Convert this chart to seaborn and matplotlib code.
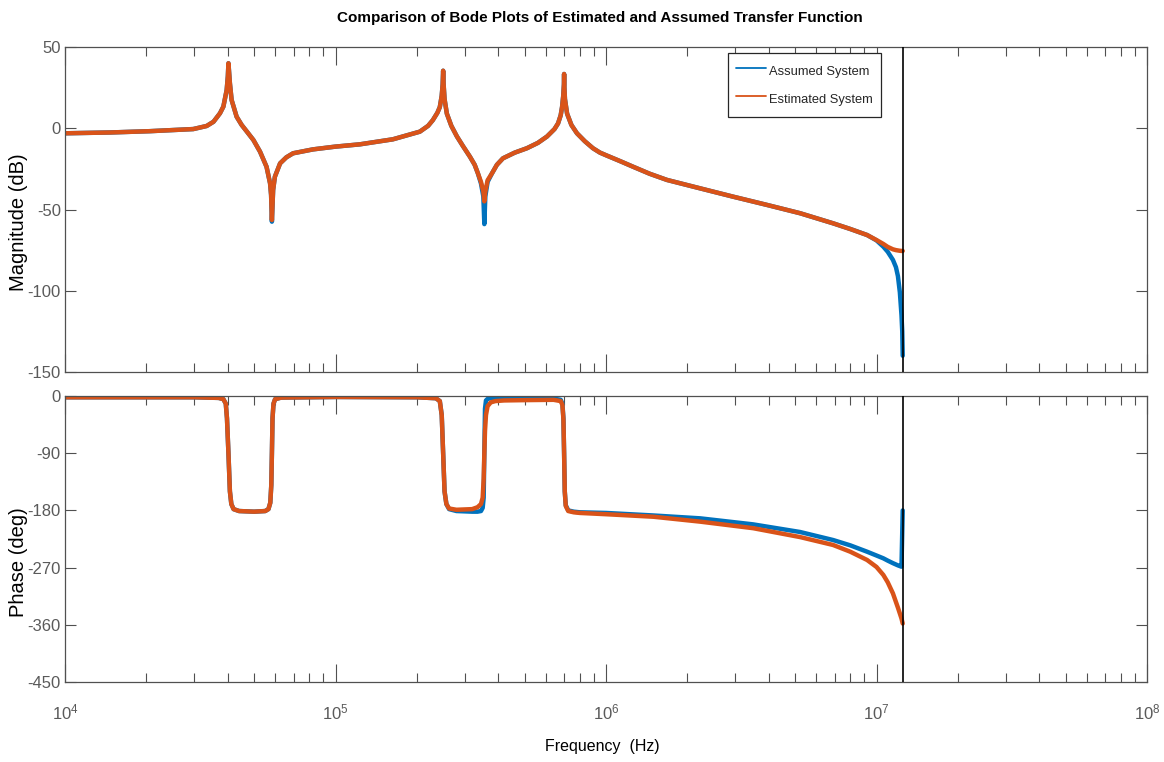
import matplotlib
matplotlib.use("Agg")
import matplotlib.pyplot as plt
import matplotlib.font_manager as fm
from matplotlib.lines import Line2D
import seaborn as sns
import pandas as pd

# ---------------- data ----------------
mag_freq = [1e4, 1.47e4, 2.06e4, 2.98e4, 3.34e4, 3.54e4, 3.74e4, 3.85e4, 3.96e4, 4.0e4,
            4.02e4, 4.07e4, 4.13e4, 4.31e4, 4.5e4, 4.7e4, 4.97e4, 5.26e4, 5.56e4, 5.73e4,
            5.78e4, 5.82e4, 5.88e4, 5.97e4, 6.24e4, 6.58e4, 6.97e4, 8.26e4, 1.0e5, 1.23e5,
            1.63e5, 2.05e5, 2.2e5, 2.29e5, 2.38e5, 2.43e5, 2.47e5, 2.49e5, 2.5e5, 2.51e5,
            2.53e5, 2.58e5, 2.68e5, 2.81e5, 2.96e5, 3.14e5, 3.27e5, 3.36e5, 3.45e5, 3.52e5,
            3.55e5, 3.58e5, 3.65e5, 3.79e5, 3.95e5, 4.16e5, 4.6e5, 5.1e5, 5.6e5, 6.05e5,
            6.45e5, 6.65e5, 6.8e5, 6.88e5, 6.95e5, 6.99e5, 7.0e5, 7.01e5, 7.05e5, 7.18e5,
            7.45e5, 7.81e5, 8.35e5, 8.95e5, 9.5e5, 1.0e6, 1.13e6, 1.26e6, 1.45e6, 1.68e6,
            2.23e6, 2.95e6, 3.94e6, 5.22e6, 6.91e6, 8.0e6, 9.23e6, 1.0e7, 1.06e7, 1.1e7,
            1.15e7, 1.18e7, 1.2e7, 1.22e7, 1.237e7, 1.245e7, 1.25e7]
mag_assumed = [-3.1, -2.6, -1.8, -0.5, 1.4, 4.0, 9.2, 13.3, 23.5, 32,
               40, 27.7, 17.4, 7.1, 2.0, -2.0, -7.2, -14.4, -23.7, -33.9,
               -41, -57.5, -38, -29.8, -21.6, -17.9, -15.4, -13, -11.3, -9.9,
               -6.8, -2.1, 1.5, 5, 9.5, 13, 20, 27, 35.4, 27,
               18, 9, 1.5, -5, -11, -17.5, -22.5, -27.7, -34, -42,
               -59, -42, -33, -27.7, -22.5, -18.5, -15, -12.3, -9, -5.1,
               -0.5, 3, 8, 13, 20, 27, 33.4, 27, 18, 9,
               2, -3.1, -8, -12.3, -15, -16.6, -20.3, -23.7, -28, -31.8,
               -37, -42.1, -47.2, -52.3, -58.5, -62, -65.7, -69, -72.9, -76,
               -81, -85.5, -91, -101, -115, -125, -140]
mag_estimated = [-3.1, -2.6, -1.8, -0.5, 1.4, 4.0, 9.2, 13.3, 23.5, 32,
                 40, 27.7, 17.4, 7.1, 2.0, -2.0, -7.2, -14.4, -23.7, -33.9,
                 -41, -56.5, -38, -29.8, -21.6, -17.9, -15.4, -13, -11.3, -9.9,
                 -6.8, -2.1, 1.5, 5, 9.5, 13, 20, 27, 35.4, 27,
                 18, 9, 1.5, -5, -11, -17.5, -22.5, -27.7, -33, -39,
                 -45, -39, -32, -27.7, -22.5, -18.5, -15, -12.3, -9, -5.1,
                 -0.5, 3, 8, 13, 20, 27, 33.4, 27, 18, 9,
                 2, -3.1, -8, -12.3, -15, -16.6, -20.3, -23.7, -28, -31.8,
                 -37, -42.1, -47.2, -52.3, -58.5, -62, -65.7, -68.8, -71.2, -73,
                 -74.5, -75, -75.2, -75.4, -75.5, -75.5, -75.5]

ph_freq = [1e4, 3.0e4, 3.7e4, 3.85e4, 3.93e4, 3.97e4, 4.02e4, 4.07e4, 4.12e4, 4.2e4,
           4.4e4, 5.0e4, 5.5e4, 5.65e4, 5.74e4, 5.79e4, 5.82e4, 5.85e4, 5.9e4, 5.98e4,
           6.3e4, 1.0e5, 2.0e5, 2.35e5, 2.43e5, 2.47e5, 2.5e5, 2.53e5, 2.57e5, 2.63e5,
           2.8e5, 3.2e5, 3.35e5, 3.45e5, 3.5e5, 3.53e5, 3.55e5, 3.57e5, 3.6e5, 3.65e5,
           3.75e5, 3.9e5, 4.2e5, 5.0e5, 6.4e5, 6.8e5, 6.9e5, 6.96e5, 7.0e5, 7.04e5,
           7.1e5, 7.25e5, 7.6e5, 8.0e5, 1.0e6, 1.5e6, 2.23e6, 3.5e6, 5.22e6, 6.91e6,
           8.0e6, 9.23e6, 1.0e7, 1.06e7, 1.1e7, 1.15e7, 1.2e7, 1.237e7, 1.25e7]
ph_assumed = [-2, -2, -3, -5, -12, -35, -90, -150, -170, -178,
              -181, -182, -181, -178, -168, -140, -90, -35, -12, -5,
              -2.5, -1.5, -2, -3.5, -8, -30, -90, -150, -170, -178,
              -181, -182, -182, -181, -176, -160, -90, -20, -7, -4.5,
              -3.5, -3.5, -3.5, -3.5, -4, -6, -12, -35, -90, -150,
              -172, -180, -182, -183, -184, -188, -192.5, -202, -214, -226.6,
              -235, -245, -251, -255.4, -259, -263, -266.5, -268.6, -180]
ph_estimated = [-2, -2, -3, -5, -12, -35, -90, -150, -170, -178,
                -181, -182, -181, -178, -168, -140, -90, -35, -12, -5,
                -2.5, -1.5, -2, -3.5, -8, -30, -90, -150, -170, -177,
                -179, -178, -175, -170, -160, -130, -90, -55, -30, -16,
                -10, -8, -7, -6.5, -6, -8, -14, -37, -90, -150,
                -173, -181, -183, -184, -186, -190, -197.7, -208, -222, -234.4,
                -245, -258, -269, -281.6, -293, -310.5, -333, -350, -358]

series_names = ["Assumed System", "Estimated System"]
series_colors = ["#0072BD", "#D95319"]
nyquist = 1.25e7
mag_ticks = [-150, -100, -50, 0, 50]
ph_ticks = [0, -90, -180, -270, -360, -450]

# ---------------- style ----------------
sns.set_style("white")
names = {f.name for f in fm.fontManager.ttflist}
narrow = "Liberation Sans Narrow" if "Liberation Sans Narrow" in names else "Liberation Sans"
plt.rcParams["font.family"] = [narrow, "DejaVu Sans"]
plt.rcParams["mathtext.fontset"] = "custom"
plt.rcParams["mathtext.rm"] = narrow
plt.rcParams["mathtext.it"] = narrow
plt.rcParams["axes.unicode_minus"] = False
axcol = "#505050"
labcol = "#5a5a5a"

fig = plt.figure(figsize=(11.64, 7.62), dpi=100)
L, R = 65 / 1164, 1147 / 1164
ax1 = fig.add_axes([L, 1 - 372 / 762, R - L, (372 - 47) / 762])
ax2 = fig.add_axes([L, 1 - 682 / 762, R - L, (682 - 396) / 762])

mag_df = pd.DataFrame({"f": mag_freq * 2,
                       "v": mag_assumed + mag_estimated,
                       "s": [series_names[0]] * len(mag_freq) + [series_names[1]] * len(mag_freq)})
ph_df = pd.DataFrame({"f": ph_freq * 2,
                      "v": ph_assumed + ph_estimated,
                      "s": [series_names[0]] * len(ph_freq) + [series_names[1]] * len(ph_freq)})

for ax, df in ((ax1, mag_df), (ax2, ph_df)):
    sns.lineplot(data=df, x="f", y="v", hue="s", palette=dict(zip(series_names, series_colors)),
                 hue_order=series_names, estimator=None, sort=False, linewidth=3.2,
                 legend=False, ax=ax)
    for ln in ax.get_lines():
        ln.set_solid_joinstyle("round")
        ln.set_solid_capstyle("round")
    ax.set_xscale("log")
    ax.set_xlim(1e4, 1e8)
    ax.axvline(nyquist, color="black", lw=1.2, zorder=5)
    for sp in ax.spines.values():
        sp.set_color(axcol)
        sp.set_linewidth(0.9)
    ax.tick_params(axis="x", which="major", direction="in", top=True, bottom=True,
                   length=13, width=0.8, color=axcol, labelcolor=labcol, labelsize=12, pad=15)
    ax.tick_params(axis="x", which="minor", direction="in", top=True, bottom=True,
                   length=6.5, width=0.8, color=axcol)
    ax.tick_params(axis="y", which="major", direction="in", left=True, right=True,
                   length=8, width=0.8, color=axcol, labelcolor=labcol, labelsize=12, pad=3)
    ax.set_xlabel("")
    ax.set_ylabel("")

ax1.set_ylim(-150, 50)
ax1.set_yticks(mag_ticks)
ax1.tick_params(axis="x", labelbottom=False)
ax2.set_ylim(-450, 0)
ax2.set_yticks(ph_ticks)

ax1.set_ylabel("Magnitude (dB)", family=["Liberation Sans", "DejaVu Sans"], fontsize=14.5, color="black")
ax2.set_ylabel("Phase (deg)", family=["Liberation Sans", "DejaVu Sans"], fontsize=14.5, color="black")
ax1.yaxis.set_label_coords(-0.034, 0.46)
ax2.yaxis.set_label_coords(-0.034, 0.42)
ax2.set_xlabel("Frequency  (Hz)", fontsize=11.5, color="black")
ax2.xaxis.set_label_coords(0.497, -0.2)

fig.text(0.5155, 1 - 18 / 762, "Comparison of Bode Plots of Estimated and Assumed Transfer Function",
         ha="center", va="center", fontsize=11, fontweight="bold", color="black")

handles = [Line2D([0], [0], color=c, lw=1.3) for c in series_colors]
leg = ax1.legend(handles, series_names, loc="upper left", bbox_to_anchor=(0.6128, 0.9815),
                 fontsize=9.3, frameon=True, fancybox=False, framealpha=1,
                 edgecolor="#262626", handlelength=2.3, handletextpad=0.3, handleheight=2.1,
                 borderpad=0.6, borderaxespad=0.0, labelspacing=0.55)
leg.get_frame().set_linewidth(0.9)

fig.savefig("out.png", dpi=100)
